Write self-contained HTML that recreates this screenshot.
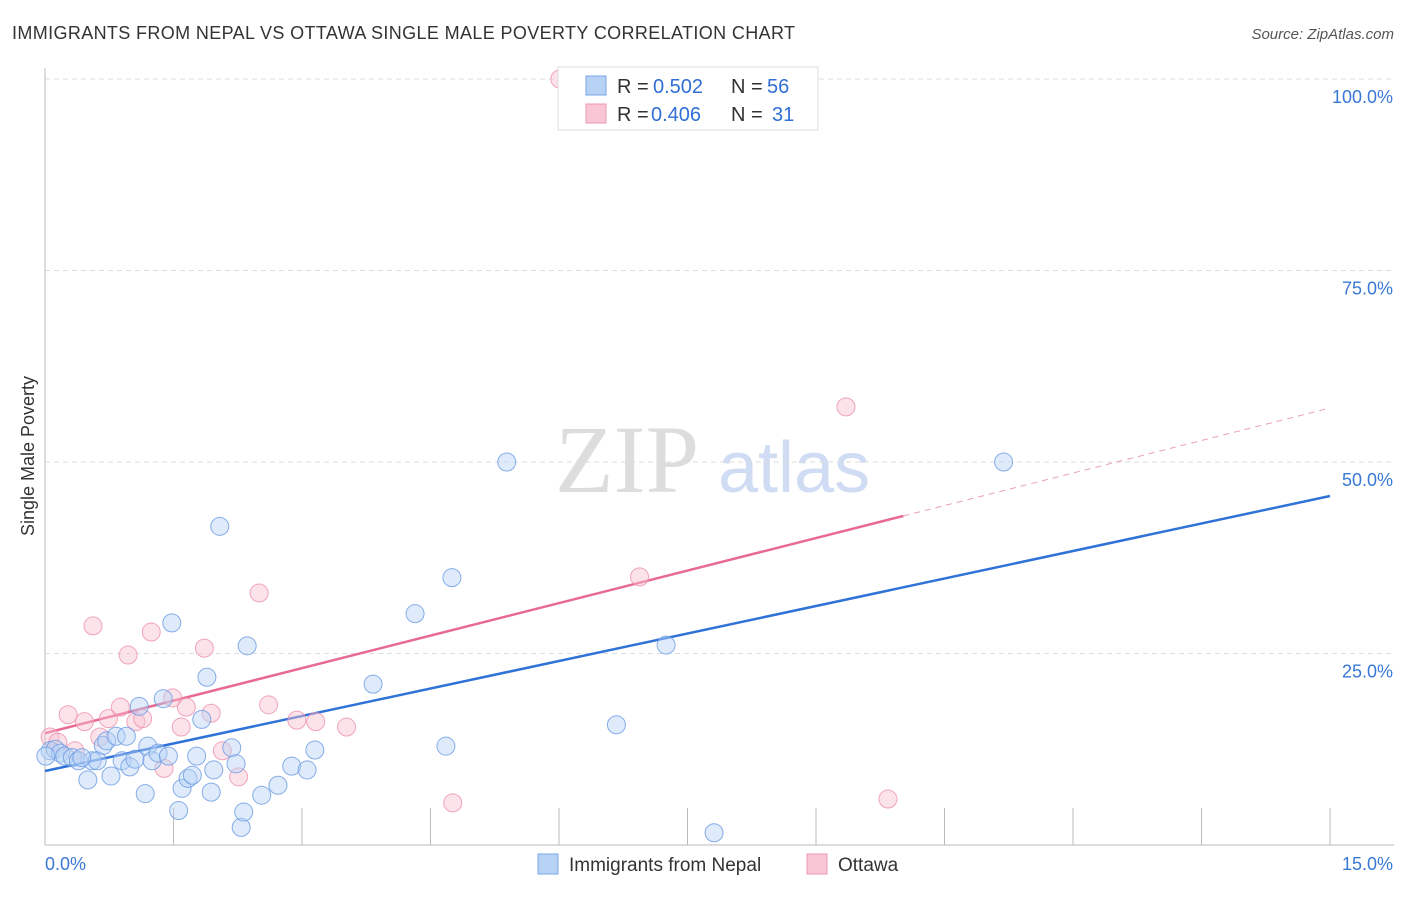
<!DOCTYPE html>
<html><head><meta charset="utf-8"><style>
body{margin:0;background:#fff;font-family:"Liberation Sans",sans-serif}
</style></head><body>
<svg id="c" width="1406" height="892" xmlns="http://www.w3.org/2000/svg" font-family="Liberation Sans, sans-serif">
<text x="12" y="39" font-size="18" fill="#333" textLength="783">IMMIGRANTS FROM NEPAL VS OTTAWA SINGLE MALE POVERTY CORRELATION CHART</text>
<text x="1394" y="39" font-size="15" fill="#555" font-style="italic" text-anchor="end">Source: ZipAtlas.com</text>
<text x="555" y="492" font-size="96" fill="#ddd" font-family="Liberation Serif, serif">ZIP</text>
<text x="718" y="492" font-size="72" fill="#cfdcf3">atlas</text>
<text transform="translate(34,456) rotate(-90)" font-size="18" fill="#333" text-anchor="middle">Single Male Poverty</text>
<g id="grid"></g><g id="ticks"></g><g id="lines"></g><g id="pts"></g>
<g>
<rect x="558" y="67" width="260" height="63" fill="#fff" stroke="#ddd"/>
<rect x="586" y="76" width="20" height="19" fill="#b8d2f6" stroke="#7aa6e6"/>
<rect x="586" y="104" width="20" height="19" fill="#f8c6d4" stroke="#ec9ab2"/>
<text x="617" y="93" font-size="20" fill="#333">R =</text>
<text x="653" y="93" font-size="20" fill="#2f6fd6">0.502</text>
<text x="731" y="93" font-size="20" fill="#333">N =</text>
<text x="767" y="93" font-size="20" fill="#2f6fd6">56</text>
<text x="617" y="121" font-size="20" fill="#333">R =</text>
<text x="651" y="121" font-size="20" fill="#2f6fd6">0.406</text>
<text x="731" y="121" font-size="20" fill="#333">N =</text>
<text x="772" y="121" font-size="20" fill="#2f6fd6">31</text>
</g>
<g>
<rect x="538" y="854" width="20" height="20" fill="#b8d2f6" stroke="#7aa6e6"/>
<text x="569" y="871" font-size="19" fill="#333">Immigrants from Nepal</text>
<rect x="807" y="854" width="20" height="20" fill="#f8c6d4" stroke="#ec9ab2"/>
<text x="838" y="871" font-size="19" fill="#333">Ottawa</text>
</g>
</svg>
<script>
const nepalX=[0.06,0.12,0.18,0.23,0.32,0.39,0.5,0.55,0.61,0.68,0.72,0.77,0.83,0.9,0.95,0.99,1.05,1.1,1.17,1.2,1.25,1.32,1.38,1.44,1.48,1.56,1.6,1.67,1.72,1.77,1.83,1.89,1.94,1.97,2.04,2.18,2.23,2.29,2.32,2.36,2.53,2.72,2.88,3.06,3.15,3.83,4.32,4.68,4.75,5.39,6.67,7.25,7.81,11.19,0.01,0.43];
const nepalY=[12.3,12.5,12.0,11.6,11.4,11.0,8.5,11.0,11.0,13.0,13.6,9.0,14.2,11.0,14.2,10.2,11.2,18.1,6.7,12.9,11.0,12.0,19.1,11.6,29.0,4.5,7.4,8.7,9.1,11.6,16.4,21.9,6.9,9.8,41.6,12.7,10.6,2.3,4.3,26.0,6.5,7.8,10.3,9.8,12.4,21.0,30.2,12.9,34.9,50.0,15.7,26.1,1.6,50.0,11.6,11.4];
const ottX=[6.01,9.35,6.94,2.5,0.56,1.24,0.97,1.86,0.27,0.46,0.74,0.88,1.06,1.14,0.64,1.49,1.65,1.94,1.59,2.61,2.94,3.16,3.52,2.07,2.26,1.39,4.76,9.84,0.06,0.15,0.35];
const ottY=[100,57.2,35.0,32.9,28.6,27.8,24.8,25.7,17.0,16.1,16.5,18.0,16.1,16.5,14.1,19.2,18.0,17.2,15.4,18.3,16.3,16.1,15.4,12.3,8.9,10.0,5.5,6.0,14.1,13.4,12.3];
const yTicks=[25,50,75,100], yTickLabels=["25.0%","50.0%","75.0%","100.0%"];
const xTicks=[0,1.5,3,4.5,6,7.5,9,10.5,12,13.5,15];
const nepalTrend=[9.66,45.56], ottTrend=[14.6,57.05], ottSolidEnd=10.02;
const X=v=>45+v/15*1285, Y=v=>845-v/100*766;
const NS="http://www.w3.org/2000/svg";
function mk(p,t,a){const e=document.createElementNS(NS,t);for(const k in a)e.setAttribute(k,a[k]);document.getElementById(p).appendChild(e);return e;}
yTicks.forEach((t,i)=>{
 const l=mk('grid','line',{x1:45,x2:1394,y1:Y(t),y2:Y(t),stroke:'#ddd','stroke-dasharray':'5,4'});
 
 
 const tx=mk('grid','text',{x:1393,y:Y(t)+24,'font-size':18,fill:'#3a78d6','text-anchor':'end'});
 tx.textContent=yTickLabels[i];
 
 
});
const ax=mk('ticks','line',{x1:45,x2:45,y1:68,y2:845,stroke:'#bbb'});


const bx=mk('ticks','line',{x1:45,x2:1394,y1:845,y2:845,stroke:'#bbb'});


xTicks.forEach(t=>{const l=mk('ticks','line',{x1:X(t),x2:X(t),y1:808,y2:845,stroke:'#bbb'});
 
 });
const x0=mk('ticks','text',{x:45,y:870,'font-size':18,fill:'#3a78d6'});x0.textContent='0.0%';


const x1=mk('ticks','text',{x:1393,y:870,'font-size':18,fill:'#3a78d6','text-anchor':'end'});x1.textContent='15.0%';


function pts(xs,ys,f,s,n){xs.forEach((x,i)=>{const c=mk('pts','circle',{cx:X(x),cy:Y(ys[i]),r:9,fill:f,'fill-opacity':0.45,stroke:s,'stroke-width':1,'stroke-opacity':0.8});
 
 });}
pts(ottX,ottY,'#f8c0d0','#ec90ac','ottawa-point');
pts(nepalX,nepalY,'#b8d2f6','#6a9ae2','nepal-point');
const bl=mk('lines','line',{x1:X(0),y1:Y(nepalTrend[0]),x2:X(15),y2:Y(nepalTrend[1]),stroke:'#2f72d8','stroke-width':2.5});


const oy=v=>ottTrend[0]+(ottTrend[1]-ottTrend[0])*v/15;
const pl=mk('lines','line',{x1:X(0),y1:Y(oy(0)),x2:X(ottSolidEnd),y2:Y(oy(ottSolidEnd)),stroke:'#e86a92','stroke-width':2.5});


const pd=mk('lines','line',{x1:X(ottSolidEnd),y1:Y(oy(ottSolidEnd)),x2:X(15),y2:Y(oy(15)),stroke:'#e8a0b6','stroke-width':1,'stroke-dasharray':'6,5'});


</script>
</body></html>
